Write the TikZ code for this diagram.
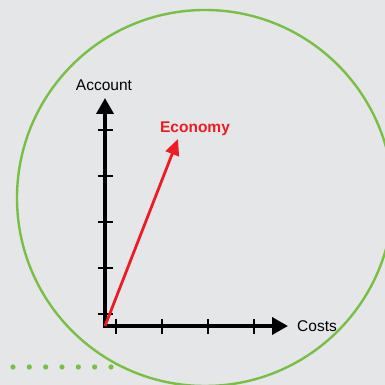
\documentclass[tikz,border=0pt]{standalone}
\usepackage{fontspec}
\setmainfont{Liberation Sans}
\usepackage{xcolor}
\usetikzlibrary{arrows.meta,calc}
\definecolor{bgGrey}{HTML}{E4E6E8}
\definecolor{ringGreen}{HTML}{77C043}
\definecolor{vecRed}{HTML}{ED1C24}

\begin{document}
\begin{tikzpicture}[x=1pt,y=1pt,
        axis/.style={line width=3.6pt,-{Triangle[length=16pt,width=17pt]}},
        tick/.style={line width=1.3pt},
        lbl/.style={font=\fontsize{15.5}{18}\selectfont,inner sep=0pt}]
                \fill[bgGrey] (0,0) rectangle (385,385);
                \useasboundingbox (0,0) rectangle (385,385);

                \draw[ringGreen,line width=2.4pt] (205,187) circle (188);

                \foreach \i in {0,...,6}
                    \fill[ringGreen] (13+16.33*\i,18) circle (2.6);

                \coordinate (O) at (105,59);
                \coordinate (ytip) at (105,287);
                \coordinate (xtip) at (288,59);
                \coordinate (etip) at (178,246);

                \foreach \y in {71,117,163,209,255}
                    \draw[tick] (97.5,\y) -- (112.5,\y);
                \foreach \x in {116,162,208,254}
                    \draw[tick] (\x,51) -- (\x,66);

                \draw[axis] ($(O)+(0,-1.8)$) -- (ytip);
                \draw[axis] ($(O)+(-1.8,0)$) -- (xtip);
                \draw[vecRed,line width=2.8pt,-{Triangle[length=16pt,width=14pt]}] (O) -- (etip);

                \node[lbl] (account) at (104,300) {Account};
                \node[lbl,anchor=west] (costs) at (297,59) {Costs};
                \node[lbl,text=vecRed,font=\fontsize{15.5}{18}\selectfont\bfseries] (economy) at (195,256) {Economy};
            \end{tikzpicture}
\end{document}
